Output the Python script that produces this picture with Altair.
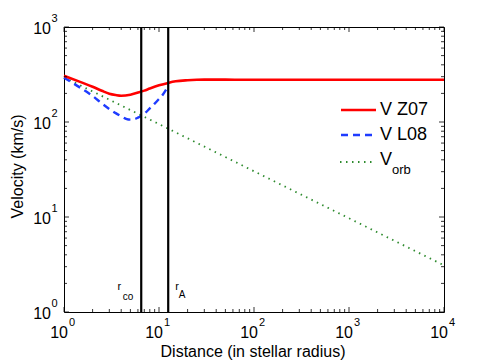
import altair as alt
import pandas as pd

# ---- data ----
z07_r = [1, 1.5, 2, 2.5, 3, 3.5, 4, 5, 6, 7, 8, 10, 12.5, 15, 20, 25, 30, 50, 100, 1000, 10000]
z07_v = [307, 263, 235, 213, 198, 192, 189, 194, 204, 214, 225, 243, 258, 268, 275, 278, 279, 279, 278, 278, 278]

l08_r = [1, 1.5, 2, 2.5, 3, 3.5, 4, 4.5, 5, 5.5, 6, 7, 8, 9, 10, 11, 12.1]
l08_v = [293, 228, 188, 157, 137, 124, 115, 108, 106, 107, 111, 122, 139, 156, 175, 195, 226]

orb_r = [1, 10, 100, 1000, 10000]
orb_v = [295, 95, 30.3, 9.7, 3.1]

radii_r = [6.5, 12.5]
radii_main = ["r", "r"]
radii_sub = ["co", "A"]

x_major = [1, 10, 100, 1000, 10000]
x_exp = ["0", "1", "2", "3", "4"]
y_major = [1, 10, 100, 1000]
y_exp = ["0", "1", "2", "3"]
x_minor = [m * 10 ** k for k in range(4) for m in range(2, 10)]
y_minor = [m * 10 ** k for k in range(3) for m in range(2, 10)]

legend_labels = ["V Z07", "V L08", "V"]

# ---- layout ----
W, H = 380, 285
FONT = "Liberation Sans"
TXT = "#000000"
xs = alt.Scale(type="log", domain=[1, 10000], nice=False)
ys = alt.Scale(type="log", domain=[1, 1000], nice=False)

one = pd.DataFrame({"a": [0]})

df_z = pd.DataFrame({"r": z07_r, "v": z07_v})
df_l = pd.DataFrame({"r": l08_r, "v": l08_v})
df_o = pd.DataFrame({"r": orb_r, "v": orb_v})
df_rad = pd.DataFrame({"r": radii_r, "m": radii_main, "s": radii_sub})
df_xM = pd.DataFrame({"t": x_major, "e": x_exp})
df_yM = pd.DataFrame({"t": y_major, "e": y_exp})
df_xm = pd.DataFrame({"t": x_minor})
df_ym = pd.DataFrame({"t": y_minor})

X = lambda f: alt.X(f, type="quantitative", scale=xs, axis=None)
Y = lambda f: alt.Y(f, type="quantitative", scale=ys, axis=None)

red = alt.Chart(df_z).mark_line(color="#ff0000", strokeWidth=2.6, interpolate="monotone").encode(x=X("r"), y=Y("v"))
blue = alt.Chart(df_l).mark_line(color="#1f3cff", strokeWidth=2.4, strokeDash=[7, 5], interpolate="monotone").encode(x=X("r"), y=Y("v"))
green = alt.Chart(df_o).mark_line(color="#2e8b2e", strokeWidth=1.8, strokeDash=[1.5, 4.5]).encode(x=X("r"), y=Y("v"))

vlines = alt.Chart(df_rad).mark_rule(color="black", strokeWidth=2.2).encode(x=X("r"))

co_r = alt.Chart(df_rad.iloc[[0]]).mark_text(color=TXT, align="right", baseline="middle", dx=-20, font=FONT, fontSize=11).encode(x=X("r"), y=alt.value(260), text="m:N")
co_s = alt.Chart(df_rad.iloc[[0]]).mark_text(color=TXT, align="right", baseline="middle", dx=-8, font=FONT, fontSize=10).encode(x=X("r"), y=alt.value(270), text="s:N")
a_r = alt.Chart(df_rad.iloc[[1]]).mark_text(color=TXT, align="left", baseline="middle", dx=7, font=FONT, fontSize=11).encode(x=X("r"), y=alt.value(260), text="m:N")
a_s = alt.Chart(df_rad.iloc[[1]]).mark_text(color=TXT, align="left", baseline="middle", dx=10.5, font=FONT, fontSize=10).encode(x=X("r"), y=alt.value(268), text="s:N")

tick_col = "#000000"
MAJ, MIN = 5, 3
xt = []
for df, L in ((df_xM, MAJ), (df_xm, MIN)):
    xt.append(alt.Chart(df).mark_rule(color=tick_col, strokeWidth=0.8).encode(x=X("t"), y=alt.value(H), y2=alt.value(H - L)))
    xt.append(alt.Chart(df).mark_rule(color=tick_col, strokeWidth=0.8).encode(x=X("t"), y=alt.value(0), y2=alt.value(L)))
for df, L in ((df_yM, MAJ), (df_ym, MIN)):
    xt.append(alt.Chart(df).mark_rule(color=tick_col, strokeWidth=0.8).encode(y=Y("t"), x=alt.value(0), x2=alt.value(L)))
    xt.append(alt.Chart(df).mark_rule(color=tick_col, strokeWidth=0.8).encode(y=Y("t"), x=alt.value(W), x2=alt.value(W - L)))

xl10 = alt.Chart(df_xM).mark_text(color=TXT, align="right", baseline="middle", dx=4, font=FONT, fontSize=16).encode(x=X("t"), y=alt.value(H + 20.5), text=alt.value("10"))
xlexp = alt.Chart(df_xM).mark_text(color=TXT, align="left", baseline="middle", dx=5, font=FONT, fontSize=11).encode(x=X("t"), y=alt.value(H + 11), text="e:N")
yl10 = alt.Chart(df_yM).mark_text(color=TXT, align="right", baseline="middle", dx=-13, dy=2, font=FONT, fontSize=16).encode(y=Y("t"), x=alt.value(0), text=alt.value("10"))
ylexp = alt.Chart(df_yM).mark_text(color=TXT, align="left", baseline="middle", dx=-12.5, dy=-8, font=FONT, fontSize=11).encode(y=Y("t"), x=alt.value(0), text="e:N")

xtitle = alt.Chart(one).mark_text(color=TXT, align="center", baseline="middle", font=FONT, fontSize=16).encode(
    x=alt.value(W / 2 - 1), y=alt.value(H + 40), text=alt.value("Distance (in stellar radius)"))
ytitle = alt.Chart(one).mark_text(color=TXT, align="center", baseline="middle", angle=270, font=FONT, fontSize=16).encode(
    x=alt.value(-46), y=alt.value(H / 2 - 3), text=alt.value("Velocity (km/s)"))

# legend
LX1, LX2, LT = 277, 312, 316
leg = [
    alt.Chart(one).mark_rule(color="#ff0000", strokeWidth=2.6).encode(x=alt.value(LX1), x2=alt.value(LX2), y=alt.value(83)),
    alt.Chart(one).mark_rule(color="#1f3cff", strokeWidth=2.4, strokeDash=[7, 5]).encode(x=alt.value(LX1), x2=alt.value(LX2), y=alt.value(108)),
    alt.Chart(one).mark_rule(color="#2e8b2e", strokeWidth=1.8, strokeDash=[1.5, 4.5]).encode(x=alt.value(LX1 - 1), x2=alt.value(LX2 - 2), y=alt.value(135)),
    alt.Chart(one).mark_text(color=TXT, align="left", baseline="middle", font=FONT, fontSize=18).encode(x=alt.value(LT), y=alt.value(83), text=alt.value(legend_labels[0])),
    alt.Chart(one).mark_text(color=TXT, align="left", baseline="middle", font=FONT, fontSize=18).encode(x=alt.value(LT), y=alt.value(108), text=alt.value(legend_labels[1])),
    alt.Chart(one).mark_text(color=TXT, align="left", baseline="middle", font=FONT, fontSize=18).encode(x=alt.value(LT), y=alt.value(133), text=alt.value(legend_labels[2])),
    alt.Chart(one).mark_text(color=TXT, align="left", baseline="middle", font=FONT, fontSize=13).encode(x=alt.value(LT + 12), y=alt.value(143), text=alt.value("orb")),
]

chart = alt.layer(
    green, blue, red, vlines, co_r, co_s, a_r, a_s, *xt, xl10, xlexp, yl10, ylexp, xtitle, ytitle, *leg
).properties(
    width=W, height=H,
    autosize=alt.AutoSizeParams(type="none"),
    padding={"left": 56, "top": 19, "right": 39, "bottom": 50},
).configure_view(stroke="#000000", strokeWidth=1)

chart.save("out.html", embed_options={"renderer": "svg", "actions": False})
